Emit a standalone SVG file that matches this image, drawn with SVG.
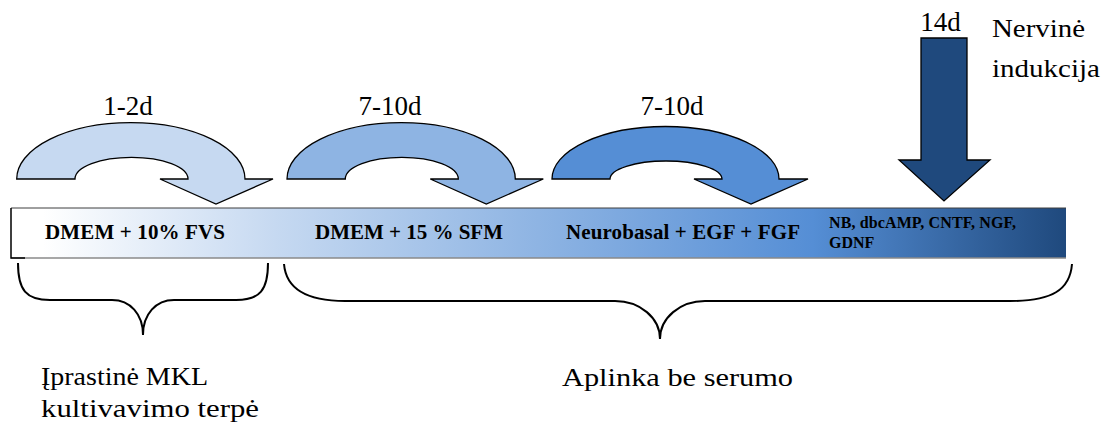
<svg xmlns="http://www.w3.org/2000/svg" width="1105" height="432" viewBox="0 0 1105 432" font-family="'Liberation Serif', Tinos, 'Times New Roman', 'DejaVu Serif', serif">
  <defs>
    <linearGradient id="barFill" x1="11" y1="0" x2="1066" y2="0" gradientUnits="userSpaceOnUse">
      <stop offset="0" stop-color="#ffffff"/>
      <stop offset="0.03" stop-color="#ffffff"/>
      <stop offset="0.25" stop-color="#c6d9f1"/>
      <stop offset="0.5" stop-color="#8eb4e3"/>
      <stop offset="0.76" stop-color="#558ed5"/>
      <stop offset="1" stop-color="#1f497d"/>
    </linearGradient>
    <!-- curved "U-turn" arrow, origin at its left base -->
    <path id="uturn" d="M0,0 A114,56.3 0 0 1 228.3,0 L256.3,0 L199.3,25 L143.3,0 L171.3,0 A56.5,21.7 0 0 0 58.3,0 Z"/>
  </defs>
  <style>
    text { fill: #000; }
    .lbl { font-size: 27px; }
    .wide { font-size: 26px; }
    .bar { font-size: 21px; font-weight: bold; }
    .small { font-size: 16px; font-weight: bold; }
    .arrow { stroke: #000; stroke-width: 1.3; stroke-linejoin: miter; }
    .brace { fill: none; stroke: #000; stroke-width: 2; }
  </style>

  <!-- timeline bar -->
  <g id="timeline">
    <rect x="11" y="208" width="1055" height="50" fill="url(#barFill)"/>
    <line x1="11" y1="208" x2="1066" y2="208" stroke="#3f3f3f" stroke-width="1"/>
    <line x1="11" y1="258" x2="1066" y2="258" stroke="#8a8a8a" stroke-width="1.5"/>
    <path d="M25,258 H11 V208" fill="none" stroke="#000" stroke-width="1.5"/>
    <text class="bar" x="45" y="239" textLength="180">DMEM + 10% FVS</text>
    <text class="bar" x="315" y="238.5" textLength="188">DMEM + 15 % SFM</text>
    <text class="bar" x="566" y="238.5" textLength="234">Neurobasal + EGF + FGF</text>
    <text class="small" x="829" y="227.5" textLength="187">NB, dbcAMP, CNTF, NGF,</text>
    <text class="small" x="829" y="247.5">GDNF</text>
  </g>

  <!-- stage arrows -->
  <g id="stage1">
    <use href="#uturn" x="16.7" y="179" class="arrow" fill="#c6d9f1"/>
    <text class="lbl" x="128" y="115" text-anchor="middle">1-2d</text>
  </g>
  <g id="stage2">
    <use href="#uturn" x="287" y="179" class="arrow" fill="#8eb4e3"/>
    <text class="lbl" x="390" y="115" text-anchor="middle">7-10d</text>
  </g>
  <g id="stage3">
    <path class="arrow" fill="#558ed5" d="M552,179 A113.5,52.5 0 0 1 779,179 L808,179 L751,204 L694,179 L722,179 A56,18 0 0 0 610,179 Z"/>
    <text class="lbl" x="672" y="115" text-anchor="middle">7-10d</text>
  </g>
  <g id="induction">
    <path class="arrow" fill="#1f497d" d="M921,38 H967 V160 H990 L944,201 L899,160 H921 Z"/>
    <text class="lbl" x="940.5" y="31" text-anchor="middle">14d</text>
    <text class="wide" x="992" y="37" textLength="93" lengthAdjust="spacingAndGlyphs">Nervinė</text>
    <text class="wide" x="992" y="77" textLength="108" lengthAdjust="spacingAndGlyphs">indukcija</text>
  </g>

  <!-- braces grouping the periods -->
  <g id="braces">
    <path class="brace" d="M18,263 C18,290 26,300 50,300 L112,300 C130,300 143,314 143,335 C143,314 156,300 174,300 L236,300 C260,300 268,290 268,263"/>
    <path class="brace" d="M284,264 C286,288 305,301 345,301 L615,301 C640,301 660,318 660,339 C660,318 680,301 705,301 L1010,301 C1052,301 1070,290 1072,264"/>
  </g>

  <!-- group labels -->
  <g id="labels">
    <text class="wide" x="41" y="385" textLength="167" lengthAdjust="spacingAndGlyphs">Įprastinė MKL</text>
    <text class="wide" x="41" y="417" textLength="218" lengthAdjust="spacingAndGlyphs">kultivavimo terpė</text>
    <text class="wide" x="562" y="386" textLength="231" lengthAdjust="spacingAndGlyphs">Aplinka be serumo</text>
  </g>
</svg>
